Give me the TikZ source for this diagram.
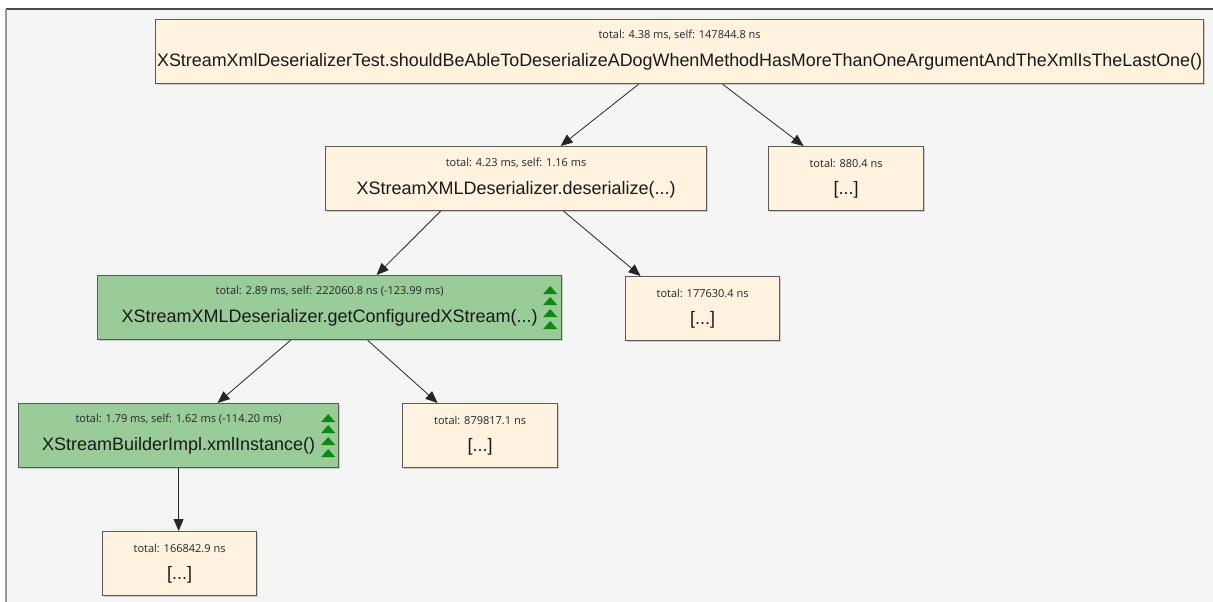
\documentclass[tikz,border=0pt]{standalone}
\usepackage{fontspec}
\setmainfont{Liberation Sans}
\newfontfamily\smallf{Open Sans}
\usetikzlibrary{arrows.meta,shadows,calc}
\definecolor{beige}{HTML}{FFF2DE}
\definecolor{gfill}{HTML}{99CC99}
\definecolor{gtri}{HTML}{0A8A0A}
\definecolor{bord}{HTML}{5A5A5A}
\definecolor{panel}{HTML}{F5F5F5}
\begin{document}
\begin{tikzpicture}[x=1pt,y=-1pt,
  box/.style={draw=bord, line width=1.2pt, minimum width=#1, minimum height=64pt, inner sep=0pt, anchor=north west,
    drop shadow={shadow xshift=1.2pt, shadow yshift=-1.5pt, opacity=0.35}},
  bbox/.style={box=#1, fill=beige},
  gbox/.style={box=#1, fill=gfill},
  stxt/.style={font=\smallf\fontsize{11}{13}\selectfont, inner sep=0pt, text=black!85},
  mtxt/.style={font=\fontsize{18}{22}\selectfont, inner sep=0pt, text=black!90},
  arr/.style={draw=black!85, line width=0.8pt, -{Triangle[length=12pt,width=10pt]}}
]
\useasboundingbox (0,0) rectangle (1213,602);
\fill[panel] (6,9) rectangle (1213,602);
\draw[black!70, line width=1.5pt] (6,9) -- (1213,9);
\draw[black!40, line width=1.5pt] (6,9) -- (6,602);

% boxes
\node[bbox=1048pt] (n1) at (155,19) {};
\node[bbox=381pt] (n2) at (325,146) {};
\node[bbox=155pt] (n3) at (768,146) {};
\node[gbox=464pt] (n4) at (97,275) {};
\node[bbox=154pt] (n5) at (625,276) {};
\node[gbox=320pt] (n6) at (18,403) {};
\node[bbox=155pt] (n7) at (402,403) {};
\node[bbox=154pt] (n8) at (102,531) {};

% texts
\node[stxt] (n1s) at ($(n1.north)+(0,16)$) {total: 4.38 ms, self: 147844.8 ns};
\node[mtxt] (n1m) at ($(n1.north)+(0,43)$) {\resizebox{1045pt}{\height}{XStreamXmlDeserializerTest.shouldBeAbleToDeserializeADogWhenMethodHasMoreThanOneArgumentAndTheXmlIsTheLastOne()}};
\node[stxt] (n2s) at ($(n2.north)+(0,17)$) {total: 4.23 ms, self: 1.16 ms};
\node[mtxt] (n2m) at ($(n2.north)+(0,44)$) {XStreamXMLDeserializer.deserialize(...)};
\node[stxt] (n3s) at ($(n3.north)+(0,17)$) {total: 880.4 ns};
\node[mtxt] (n3m) at ($(n3.north)+(0,44)$) {[...]};
\node[stxt] (n4s) at ($(n4.north)+(0,16)$) {total: 2.89 ms, self: 222060.8 ns (-123.99 ms)};
\node[mtxt] (n4m) at ($(n4.north)+(0,43)$) {XStreamXMLDeserializer.getConfiguredXStream(...)};
\node[stxt] (n5s) at ($(n5.north)+(0,17)$) {total: 177630.4 ns};
\node[mtxt] (n5m) at ($(n5.north)+(0,44)$) {[...]};
\node[stxt] (n6s) at ($(n6.north)+(0,16)$) {total: 1.79 ms, self: 1.62 ms (-114.20 ms)};
\node[mtxt] (n6m) at ($(n6.north)+(0,43)$) {XStreamBuilderImpl.xmlInstance()};
\node[stxt] (n7s) at ($(n7.north)+(0,17)$) {total: 879817.1 ns};
\node[mtxt] (n7m) at ($(n7.north)+(0,44)$) {[...]};
\node[stxt] (n8s) at ($(n8.north)+(0,17)$) {total: 166842.9 ns};
\node[mtxt] (n8m) at ($(n8.north)+(0,44)$) {[...]};

% green triangles
\coordinate (t4) at ($(n4.north east)+(-12,0)$);
\coordinate (t6) at ($(n6.north east)+(-11,0)$);
\foreach \c in {t4,t6}{
  \foreach \dy in {15,26,38,50}{
    \fill[gtri] ($(\c)+(-7,\dy+4)$) -- ($(\c)+(7,\dy+4)$) -- ($(\c)+(0,\dy-4)$) -- cycle;
  }
}

% connectors
\draw[arr] ($(n1.south)+(-41,0)$) -- ($(n2.north)+(44.5,0)$);
\draw[arr] ($(n1.south)+(43,0)$) -- ($(n3.north)+(-42.5,0)$);
\draw[arr] ($(n2.south)+(-75.5,0)$) -- ($(n4.north)+(47,0)$);
\draw[arr] ($(n2.south)+(47.5,0)$) -- ($(n5.north)+(-62,0)$);
\draw[arr] ($(n4.south)+(-39,0)$) -- ($(n6.north)+(39,0)$);
\draw[arr] ($(n4.south)+(38,0)$) -- ($(n7.north)+(-42.5,0)$);
\draw[arr] ($(n6.south)+(0,0)$) -- ($(n8.north)+(-1,0)$);
\end{tikzpicture}
\end{document}
